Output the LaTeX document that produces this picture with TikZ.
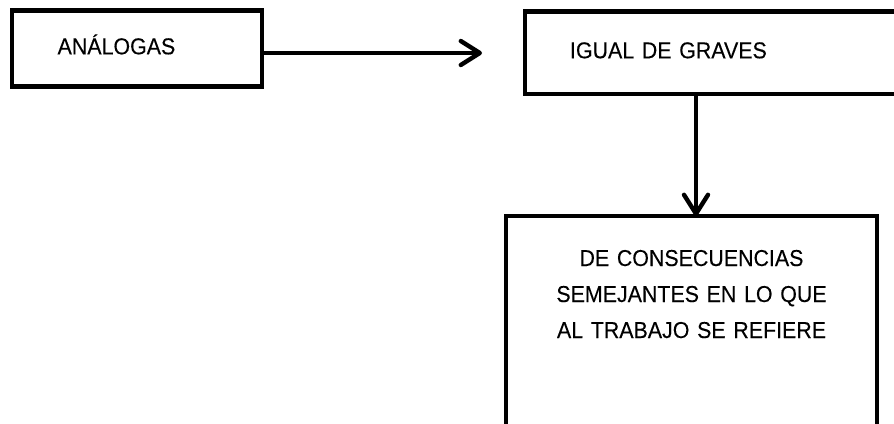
\documentclass[tikz,border=0pt]{standalone}
\usepackage{fontspec}
\setmainfont{Liberation Sans}[FakeStretch=0.93, FakeBold=0.15]
\usetikzlibrary{arrows.meta}

\begin{document}
\begin{tikzpicture}[x=1pt, y=-1pt, line width=4.6pt,
    main node/.style={rectangle, draw, outer sep=0pt, align=left,
                      font=\fontsize{23}{36}\selectfont, text height=16pt},
    link/.style={-{Straight Barb[length=19pt,width=24pt,round]}, line width=4.4pt}]

  \fill[white] (0,0) rectangle (894,423);
  \useasboundingbox (0,0) rectangle (894,423);

  \node[main node, minimum height=75.5pt, text width=158.8pt, inner xsep=45.6pt,
        text depth=4.4pt] (1) at (137,48.5) {ANÁLOGAS};
  \node[main node, minimum height=82.5pt, text width=300pt, inner xsep=45pt,
        text depth=4.9pt] (2) at (720,52.75) {IGUAL DE GRAVES};
  \node[main node, anchor=north, align=center, text width=300pt, inner xsep=35.5pt,
        inner ysep=34pt, text depth=159pt] (3) at (691.5,216)
        {DE CONSECUENCIAS\\SEMEJANTES EN LO QUE\\AL TRABAJO SE REFIERE};

  \coordinate (a) at (482,53);
  \draw[link] (1.east |- a) -- (a);
  \draw[link] ([xshift=4.5pt]3.north |- 2.south) -- ([xshift=4.5pt]3.north);
\end{tikzpicture}
\end{document}
